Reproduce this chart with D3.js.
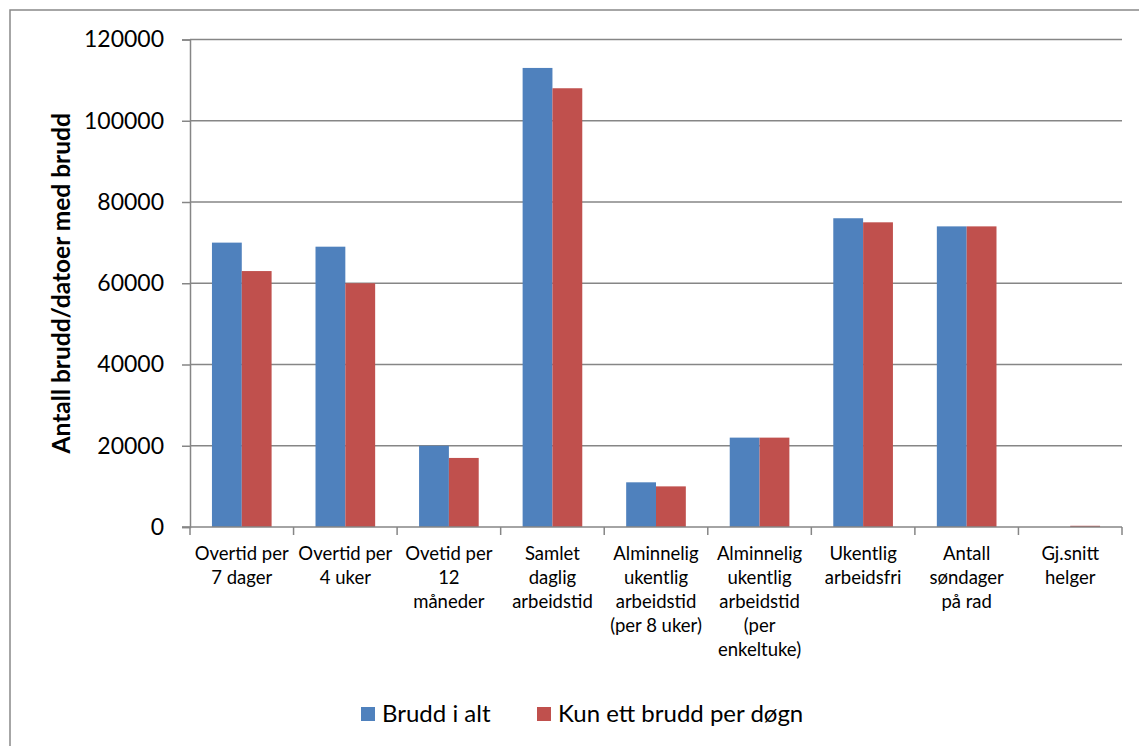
<!DOCTYPE html>
<html>
<head>
<meta charset="utf-8">
<script src="https://cdn.jsdelivr.net/npm/d3@7"></script>
<style>
  html, body { margin: 0; padding: 0; background: #fff; }
  svg { display: block; }
  text { font-family: Lato, "Open Sans", sans-serif; fill: #000; }
</style>
</head>
<body>
<svg id="chart" width="1139" height="746"></svg>
<script>
// Categories (each label broken into its printed lines)
const categories = [
  "Overtid per 7 dager",
  "Overtid per 4 uker",
  "Ovetid per 12 måneder",
  "Samlet daglig arbeidstid",
  "Alminnelig ukentlig arbeidstid (per 8 uker)",
  "Alminnelig ukentlig arbeidstid (per enkeltuke)",
  "Ukentlig arbeidsfri",
  "Antall søndager på rad",
  "Gj.snitt helger"
];
const categoryLines = [
  ["Overtid per", "7 dager"],
  ["Overtid per", "4 uker"],
  ["Ovetid per", "12", "måneder"],
  ["Samlet", "daglig", "arbeidstid"],
  ["Alminnelig", "ukentlig", "arbeidstid", "(per 8 uker)"],
  ["Alminnelig", "ukentlig", "arbeidstid", "(per", "enkeltuke)"],
  ["Ukentlig", "arbeidsfri"],
  ["Antall", "søndager", "på rad"],
  ["Gj.snitt", "helger"]
];
const seriesNames = ["Brudd i alt", "Kun ett brudd per døgn"];
const bruddIAlt = [70000, 69000, 20000, 113000, 11000, 22000, 76000, 74000, 0];
const kunEttPerDogn = [63000, 60000, 17000, 108000, 10000, 22000, 75000, 74000, 300];
const yTicks = [0, 20000, 40000, 60000, 80000, 100000, 120000];
const colors = ["#4F81BD", "#C0504D"];
const yTitle = "Antall brudd/datoer med brudd";

const svg = d3.select("#chart");
const plot = { left: 190, right: 1122, top: 39.5, bottom: 527 };
const axisColor = "#868686";

// Outer chart frame
svg.append("rect")
  .attr("x", 10).attr("y", 10)
  .attr("width", 1160).attr("height", 760)
  .attr("fill", "none").attr("stroke", "#898989").attr("stroke-width", 1.5);

const x = d3.scaleBand().domain(categories).range([plot.left, plot.right]);
const bw = x.bandwidth();
const x1 = d3.scaleBand().domain(seriesNames)
  .range([bw * 0.212, bw * 0.788]);
const y = d3.scaleLinear().domain([0, 120000]).range([plot.bottom, plot.top]);

// Horizontal grid lines
svg.append("g").selectAll("line").data(yTicks.filter(d => d > 0)).join("line")
  .attr("x1", plot.left).attr("x2", plot.right)
  .attr("y1", d => y(d)).attr("y2", d => y(d))
  .attr("stroke", axisColor).attr("stroke-width", 1.5);

// Bars
const rows = categories.map((c, i) => ({ cat: c, vals: [bruddIAlt[i], kunEttPerDogn[i]] }));
const groups = svg.append("g").selectAll("g").data(rows).join("g")
  .attr("transform", d => `translate(${x(d.cat)},0)`);
groups.selectAll("rect")
  .data(d => d.vals.map((v, k) => ({ v, k })))
  .join("rect")
  .attr("x", d => x1(seriesNames[d.k]))
  .attr("width", x1.bandwidth())
  .attr("y", d => y(d.v))
  .attr("height", d => y(0) - y(d.v))
  .attr("fill", d => colors[d.k]);

// Y axis
const yAxis = d3.axisLeft(y).tickValues(yTicks).tickSize(8).tickPadding(18)
  .tickFormat(d3.format("d"));
const gy = svg.append("g").attr("transform", `translate(${plot.left},0)`).call(yAxis);
gy.select(".domain").attr("stroke", axisColor).attr("stroke-width", 1.5);
gy.selectAll(".tick line").attr("stroke", axisColor).attr("stroke-width", 1.5);
gy.selectAll(".tick text").style("font-size", "23px").style("font-family", "Lato, sans-serif").attr("fill", "#000");

// X axis: ticks on category boundaries
svg.append("line")
  .attr("x1", plot.left - 8).attr("x2", plot.right)
  .attr("y1", y(0)).attr("y2", y(0))
  .attr("stroke", axisColor).attr("stroke-width", 1.5);
const bounds = categories.map(c => x(c)).concat([plot.right]);
svg.append("g").selectAll("line").data(bounds).join("line")
  .attr("x1", d => d).attr("x2", d => d)
  .attr("y1", y(0)).attr("y2", y(0) + 8)
  .attr("stroke", axisColor).attr("stroke-width", 1.5);

// Category labels
const labels = svg.append("g").selectAll("text").data(categories).join("text")
  .attr("x", c => x(c) + bw / 2)
  .attr("y", 560)
  .attr("text-anchor", "middle")
  .style("font-size", "18.5px");
labels.selectAll("tspan")
  .data((c, i) => categoryLines[i])
  .join("tspan")
  .attr("x", function () { return this.parentNode.getAttribute("x"); })
  .attr("dy", (d, i) => i === 0 ? 0 : 24)
  .text(d => d);

// Y axis title
svg.append("text")
  .attr("transform", `translate(70,${(plot.top + plot.bottom) / 2}) rotate(-90)`)
  .attr("text-anchor", "middle")
  .style("font-size", "24.5px").style("font-weight", "bold")
  .text(yTitle);

// Legend
const legendItems = [
  { name: seriesNames[0], color: colors[0], x: 361 },
  { name: seriesNames[1], color: colors[1], x: 537 }
];
const lg = svg.append("g").selectAll("g").data(legendItems).join("g")
  .attr("transform", d => `translate(${d.x},707)`);
lg.append("rect").attr("width", 14).attr("height", 14).attr("fill", d => d.color);
lg.append("text").attr("x", 21).attr("y", 15)
  .style("font-size", "24px").text(d => d.name);
</script>
</body>
</html>
